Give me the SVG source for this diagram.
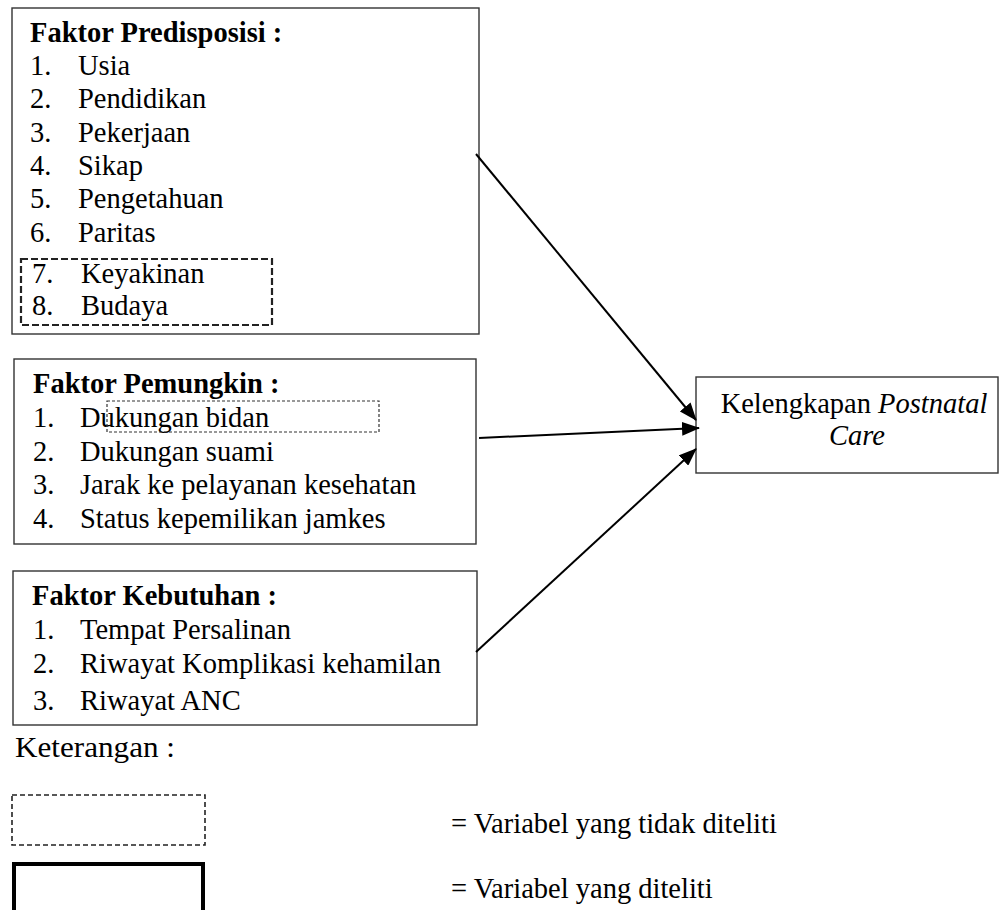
<svg xmlns="http://www.w3.org/2000/svg" width="999" height="910" viewBox="0 0 999 910">
<defs>
<marker id="ah" markerUnits="userSpaceOnUse" markerWidth="18" markerHeight="14" refX="17" refY="7" orient="auto">
<path d="M0,0 L18,7 L0,14 Z" fill="#000"/>
</marker>
<style>
text{font-family:'Liberation Serif','Times New Roman',Times,'DejaVu Serif',serif;font-size:28.5px;fill:#000}
.b{font-weight:bold}
.i{font-style:italic}
.box{fill:#fff;stroke:#333;stroke-width:1.4}
.dash1{fill:none;stroke:#222;stroke-width:2.2;stroke-dasharray:7,3}
.dash2{fill:none;stroke:#333;stroke-width:1.2;stroke-dasharray:3,2}
.dash3{fill:none;stroke:#222;stroke-width:1.6;stroke-dasharray:5,3}
.con{stroke:#000;stroke-width:2;fill:none;marker-end:url(#ah)}
</style>
</defs>
<rect width="999" height="910" fill="#fff"/>
<g id="predisposisi">
<rect class="box" x="12" y="8" width="467" height="326"/>
<text class="b" x="30" y="42">Faktor Predisposisi :</text>
<text x="30" y="75">1.</text><text x="78" y="75">Usia</text>
<text x="30" y="108">2.</text><text x="78" y="108">Pendidikan</text>
<text x="30" y="142">3.</text><text x="78" y="142">Pekerjaan</text>
<text x="30" y="175">4.</text><text x="78" y="175">Sikap</text>
<text x="30" y="208">5.</text><text x="78" y="208">Pengetahuan</text>
<text x="30" y="242">6.</text><text x="78" y="242">Paritas</text>
<rect class="dash1" x="21" y="259" width="251" height="66"/>
<text x="32" y="283">7.</text><text x="81" y="283">Keyakinan</text>
<text x="32" y="315">8.</text><text x="81" y="315">Budaya</text>
</g>

<g id="pemungkin">
<rect class="box" x="14" y="359" width="462" height="185"/>
<text class="b" x="33" y="393">Faktor Pemungkin :</text>
<text x="33" y="427">1.</text><text x="80" y="427">Dukungan bidan</text>
<rect class="dash2" x="107" y="401" width="272" height="31"/>
<text x="33" y="461">2.</text><text x="80" y="461">Dukungan suami</text>
<text x="33" y="494">3.</text><text x="80" y="494">Jarak ke pelayanan kesehatan</text>
<text x="33" y="528">4.</text><text x="80" y="528">Status kepemilikan jamkes</text>
</g>

<g id="kebutuhan">
<rect class="box" x="13" y="571" width="464" height="154"/>
<text class="b" x="32" y="605">Faktor Kebutuhan :</text>
<text x="33" y="639">1.</text><text x="80" y="639">Tempat Persalinan</text>
<text x="33" y="673">2.</text><text x="80" y="673">Riwayat Komplikasi kehamilan</text>
<text x="33" y="710">3.</text><text x="80" y="710">Riwayat ANC</text>
</g>

<g id="postnatal">
<rect class="box" x="696" y="377" width="302" height="96"/>
<text x="854" y="413" text-anchor="middle">Kelengkapan <tspan class="i">Postnatal</tspan></text>
<text class="i" x="857" y="445" text-anchor="middle">Care</text>
</g>

<g id="connectors">
<line class="con" x1="476" y1="154" x2="696" y2="420"/>
<line class="con" x1="479" y1="438" x2="699" y2="428"/>
<line class="con" x1="476" y1="652" x2="696" y2="449"/>
</g>

<g id="legend">
<text x="15" y="757" textLength="160" lengthAdjust="spacingAndGlyphs">Keterangan :</text>
<rect class="dash3" x="12" y="795" width="193" height="50"/>
<text x="451" y="833">= Variabel yang tidak diteliti</text>
<rect x="14" y="864" width="189" height="60" fill="none" stroke="#000" stroke-width="4"/>
<text x="451" y="898">= Variabel yang diteliti</text>
</g>
</svg>
